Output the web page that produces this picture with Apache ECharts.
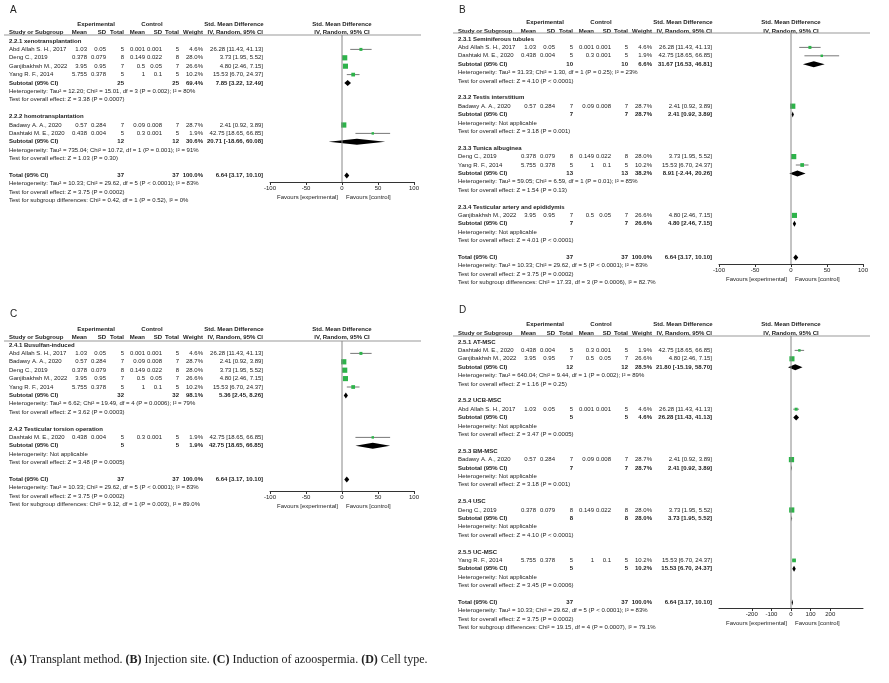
<!DOCTYPE html>
<html>
<head>
<meta charset="utf-8">
<script src="https://cdn.jsdelivr.net/npm/echarts@6/dist/echarts.min.js"></script>
<style>
  body { margin: 0; background: #fff; }
  #chart { width: 889px; height: 683px; }
</style>
</head>
<body>
<div id="chart"></div>
<script>
// studies: name, expMean, expSD, expN, ctlMean, ctlSD, ctlN, weight, smd, lo, hi
var studies = {
  abd:   ['Abd Allah S. H., 2017', '1.03', '0.05', 5, '0.001', '0.001', 5, 4.6, 26.28, 11.43, 41.13],
  deng:  ['Deng C., 2019', '0.378', '0.079', 8, '0.149', '0.022', 8, 28.0, 3.73, 1.95, 5.52],
  ganj:  ['Ganjibakhsh M., 2022', '3.95', '0.95', 7, '0.5', '0.05', 7, 26.6, 4.80, 2.46, 7.15],
  yang:  ['Yang R. F., 2014', '5.755', '0.378', 5, '1', '0.1', 5, 10.2, 15.53, 6.70, 24.37],
  bad:   ['Badawy A. A., 2020', '0.57', '0.284', 7, '0.09', '0.008', 7, 28.7, 2.41, 0.92, 3.89],
  dash:  ['Dashtaki M. E., 2020', '0.438', '0.004', 5, '0.3', '0.001', 5, 1.9, 42.75, 18.65, 66.85]
};
var NA = 'Heterogeneity: Not applicable';
var totalHet = 'Heterogeneity: Tau² = 10.33; Chi² = 29.62, df = 5 (P < 0.0001); I² = 83%';
var totalZ = 'Test for overall effect: Z = 3.75 (P = 0.0002)';
var totalRow = ['T', 'Total (95% CI)', 37, 37, '100.0%', 6.64, 3.17, 10.10];

// rows: g = subgroup title, s = study, t = subtotal/total, h = note text, b = blank
var rowsA = [
  ['g', '2.2.1 xenotransplantation'], ['s', 'abd'], ['s', 'deng'], ['s', 'ganj'], ['s', 'yang'],
  ['t', 'Subtotal (95% CI)', 25, 25, '69.4%', 7.85, 3.22, 12.49],
  ['h', 'Heterogeneity: Tau² = 12.20; Chi² = 15.01, df = 3 (P = 0.002); I² = 80%'],
  ['h', 'Test for overall effect: Z = 3.38 (P = 0.0007)'], ['b'],
  ['g', '2.2.2 homotransplantation'], ['s', 'bad'], ['s', 'dash'],
  ['t', 'Subtotal (95% CI)', 12, 12, '30.6%', 20.71, -18.66, 60.08],
  ['h', 'Heterogeneity: Tau² = 735.04; Chi² = 10.72, df = 1 (P = 0.001); I² = 91%'],
  ['h', 'Test for overall effect: Z = 1.03 (P = 0.30)'], ['b'],
  totalRow, ['h', totalHet], ['h', totalZ],
  ['h', 'Test for subgroup differences: Chi² = 0.42, df = 1 (P = 0.52), I² = 0%']
];
var rowsB = [
  ['g', '2.3.1 Seminiferous tubules'], ['s', 'abd'], ['s', 'dash'],
  ['t', 'Subtotal (95% CI)', 10, 10, '6.6%', 31.67, 16.53, 46.81],
  ['h', 'Heterogeneity: Tau² = 31.33; Chi² = 1.30, df = 1 (P = 0.25); I² = 23%'],
  ['h', 'Test for overall effect: Z = 4.10 (P < 0.0001)'], ['b'],
  ['g', '2.3.2 Testis interstitium'], ['s', 'bad'],
  ['t', 'Subtotal (95% CI)', 7, 7, '28.7%', 2.41, 0.92, 3.89],
  ['h', NA], ['h', 'Test for overall effect: Z = 3.18 (P = 0.001)'], ['b'],
  ['g', '2.3.3 Tunica albuginea'], ['s', 'deng'], ['s', 'yang'],
  ['t', 'Subtotal (95% CI)', 13, 13, '38.2%', 8.91, -2.44, 20.26],
  ['h', 'Heterogeneity: Tau² = 59.05; Chi² = 6.59, df = 1 (P = 0.01); I² = 85%'],
  ['h', 'Test for overall effect: Z = 1.54 (P = 0.13)'], ['b'],
  ['g', '2.3.4 Testicular artery and epididymis'], ['s', 'ganj'],
  ['t', 'Subtotal (95% CI)', 7, 7, '26.6%', 4.80, 2.46, 7.15],
  ['h', NA], ['h', 'Test for overall effect: Z = 4.01 (P < 0.0001)'], ['b'],
  totalRow, ['h', totalHet], ['h', totalZ],
  ['h', 'Test for subgroup differences: Chi² = 17.33, df = 3 (P = 0.0006), I² = 82.7%']
];
var rowsC = [
  ['g', '2.4.1 Busulfan-induced'], ['s', 'abd'], ['s', 'bad'], ['s', 'deng'], ['s', 'ganj'], ['s', 'yang'],
  ['t', 'Subtotal (95% CI)', 32, 32, '98.1%', 5.36, 2.45, 8.26],
  ['h', 'Heterogeneity: Tau² = 6.62; Chi² = 19.49, df = 4 (P = 0.0006); I² = 79%'],
  ['h', 'Test for overall effect: Z = 3.62 (P = 0.0003)'], ['b'],
  ['g', '2.4.2 Testicular torsion operation'], ['s', 'dash'],
  ['t', 'Subtotal (95% CI)', 5, 5, '1.9%', 42.75, 18.65, 66.85],
  ['h', NA], ['h', 'Test for overall effect: Z = 3.48 (P = 0.0005)'], ['b'],
  totalRow, ['h', totalHet], ['h', totalZ],
  ['h', 'Test for subgroup differences: Chi² = 9.12, df = 1 (P = 0.003), I² = 89.0%']
];
var rowsD = [
  ['g', '2.5.1 AT-MSC'], ['s', 'dash'], ['s', 'ganj'],
  ['t', 'Subtotal (95% CI)', 12, 12, '28.5%', 21.80, -15.19, 58.70],
  ['h', 'Heterogeneity: Tau² = 640.04; Chi² = 9.44, df = 1 (P = 0.002); I² = 89%'],
  ['h', 'Test for overall effect: Z = 1.16 (P = 0.25)'], ['b'],
  ['g', '2.5.2 UCB-MSC'], ['s', 'abd'],
  ['t', 'Subtotal (95% CI)', 5, 5, '4.6%', 26.28, 11.43, 41.13],
  ['h', NA], ['h', 'Test for overall effect: Z = 3.47 (P = 0.0005)'], ['b'],
  ['g', '2.5.3 BM-MSC'], ['s', 'bad'],
  ['t', 'Subtotal (95% CI)', 7, 7, '28.7%', 2.41, 0.92, 3.89],
  ['h', NA], ['h', 'Test for overall effect: Z = 3.18 (P = 0.001)'], ['b'],
  ['g', '2.5.4 USC'], ['s', 'deng'],
  ['t', 'Subtotal (95% CI)', 8, 8, '28.0%', 3.73, 1.95, 5.52],
  ['h', NA], ['h', 'Test for overall effect: Z = 4.10 (P < 0.0001)'], ['b'],
  ['g', '2.5.5 UC-MSC'], ['s', 'yang'],
  ['t', 'Subtotal (95% CI)', 5, 5, '10.2%', 15.53, 6.70, 24.37],
  ['h', NA], ['h', 'Test for overall effect: Z = 3.45 (P = 0.0006)'], ['b'],
  totalRow, ['h', totalHet], ['h', totalZ],
  ['h', 'Test for subgroup differences: Chi² = 19.15, df = 4 (P = 0.0007), I² = 79.1%']
];
var ticksAC = [-100, -50, 0, 50, 100];
var ticksD = [-200, -100, 0, 100, 200];

// layout of each panel (pixels)
var panels = [
  { name: 'A', rows: rowsA, x0: 0,   label: 10,  h1: 24,  h2: 32,  line: 35,  row0: 41,  axis: 182, xr: 100, ticks: ticksAC },
  { name: 'B', rows: rowsB, x0: 449, label: 10,  h1: 22,  h2: 31,  line: 33,  row0: 39,  axis: 264, xr: 100, ticks: ticksAC },
  { name: 'C', rows: rowsC, x0: 0,   label: 314, h1: 329, h2: 337, line: 341, row0: 345, axis: 491, xr: 100, ticks: ticksAC },
  { name: 'D', rows: rowsD, x0: 449, label: 310, h1: 324, h2: 333, line: 336, row0: 342, axis: 608, xr: 367, ticks: ticksD }
];
var STEP = 8.4;
var F = '"Liberation Sans", Arial, sans-serif';
var cols = { eM: 87, eSD: 106, eN: 124, cM: 145, cSD: 162, cN: 179, w: 203, ci: 263 };

var chart = echarts.init(document.getElementById('chart'));
var grids = [], xAxes = [], yAxes = [], series = [], graphic = [];

function txt(x, y, s, align, bold, size) {
  graphic.push({ type: 'text', x: x, y: y, silent: true, style: {
    text: String(s), font: (bold ? 'bold ' : '') + (size || 6) + 'px ' + F,
    fill: '#222', align: align || 'left', verticalAlign: 'middle' } });
}
function fmt(v) { return v.toFixed(2); }

panels.forEach(function(p, gi) {
  var x0 = p.x0;
  txt(x0 + 10, p.label, p.name, 'left', false, 10);
  txt(x0 + 96, p.h1, 'Experimental', 'center', true);
  txt(x0 + 152, p.h1, 'Control', 'center', true);
  txt(x0 + 234, p.h1, 'Std. Mean Difference', 'center', true);
  txt(x0 + 342, p.h1, 'Std. Mean Difference', 'center', true);
  txt(x0 + 9, p.h2, 'Study or Subgroup', 'left', true);
  [['eM', 'Mean'], ['eSD', 'SD'], ['eN', 'Total'], ['cM', 'Mean'], ['cSD', 'SD'], ['cN', 'Total'],
   ['w', 'Weight'], ['ci', 'IV, Random, 95% CI']].forEach(function(h) { txt(x0 + cols[h[0]], p.h2, h[1], 'right', true); });
  txt(x0 + 342, p.h2, 'IV, Random, 95% CI', 'center', true);
  graphic.push({ type: 'line', silent: true, shape: { x1: x0 + 4, y1: p.line, x2: x0 + 421, y2: p.line },
    style: { stroke: '#999', lineWidth: 1 } });

  var marks = [];
  p.rows.forEach(function(r, k) {
    var y = p.row0 + k * STEP;
    if (r[0] === 'g') txt(x0 + 9, y, r[1], 'left', true);
    else if (r[0] === 'h') txt(x0 + 9, y, r[1], 'left', false);
    else if (r[0] === 's') {
      var s = studies[r[1]];
      txt(x0 + 9, y, s[0]);
      txt(x0 + cols.eM, y, s[1], 'right'); txt(x0 + cols.eSD, y, s[2], 'right'); txt(x0 + cols.eN, y, s[3], 'right');
      txt(x0 + cols.cM, y, s[4], 'right'); txt(x0 + cols.cSD, y, s[5], 'right'); txt(x0 + cols.cN, y, s[6], 'right');
      txt(x0 + cols.w, y, s[7].toFixed(1) + '%', 'right');
      txt(x0 + cols.ci, y, fmt(s[8]) + ' [' + fmt(s[9]) + ', ' + fmt(s[10]) + ']', 'right');
      marks.push([k, 0, s[8], s[9], s[10], s[7]]);
    } else if (r[0] === 't' || r[0] === 'T') {
      txt(x0 + 9, y, r[1], 'left', true);
      txt(x0 + cols.eN, y, r[2], 'right', true); txt(x0 + cols.cN, y, r[3], 'right', true);
      txt(x0 + cols.w, y, r[4], 'right', true);
      txt(x0 + cols.ci, y, fmt(r[5]) + ' [' + fmt(r[6]) + ', ' + fmt(r[7]) + ']', 'right', true);
      marks.push([k, 1, r[5], r[6], r[7], 0]);
    }
  });

  var ymin = (p.line - p.row0) / STEP, ymax = (p.axis - p.row0) / STEP;
  grids.push({ left: x0 + 270, width: 144, top: p.line, height: p.axis - p.line });
  xAxes.push({ gridIndex: gi, type: 'value', min: -p.xr, max: p.xr, position: 'bottom',
    axisLine: { show: true, onZero: false, lineStyle: { color: '#333' } },
    axisTick: { show: true, length: 3, customValues: p.ticks, lineStyle: { color: '#333' } },
    axisLabel: { customValues: p.ticks, fontSize: 6, fontFamily: F, color: '#222', margin: 3 },
    splitLine: { show: false } });
  yAxes.push({ gridIndex: gi, type: 'value', min: ymin, max: ymax, inverse: true, show: false });
  txt(x0 + 338, p.axis + 15, 'Favours [experimental]', 'right');
  txt(x0 + 346, p.axis + 15, 'Favours [control]', 'left');

  series.push({ type: 'line', xAxisIndex: gi, yAxisIndex: gi, data: [[0, ymin], [0, ymax]],
    symbol: 'none', silent: true, lineStyle: { color: '#888', width: 1 } });
  series.push({ type: 'custom', xAxisIndex: gi, yAxisIndex: gi, data: marks, silent: true,
    renderItem: function(params, api) {
      var k = api.value(0), kind = api.value(1);
      var c = api.coord([api.value(2), k]), l = api.coord([api.value(3), k]), h = api.coord([api.value(4), k]);
      if (kind === 1) {
        return { type: 'polygon', shape: { points: [[l[0], c[1]], [c[0], c[1] - 3], [h[0], c[1]], [c[0], c[1] + 3]] },
          style: { fill: '#000' } };
      }
      var sz = 1.5 + Math.sqrt(api.value(5)) * 0.7;
      return { type: 'group', children: [
        { type: 'line', shape: { x1: l[0], y1: c[1], x2: h[0], y2: c[1] }, style: { stroke: '#555', lineWidth: 0.8 } },
        { type: 'rect', shape: { x: c[0] - sz / 2, y: c[1] - sz / 2, width: sz, height: sz }, style: { fill: '#2db34a' } }
      ] };
    } });
});

// caption
graphic.push({ type: 'text', x: 10, y: 660, silent: true, style: {
  text: '{b|(A)} Transplant method. {b|(B)} Injection site. {b|(C)} Induction of azoospermia. {b|(D)} Cell type.',
  font: '12px "Liberation Serif", "DejaVu Serif", serif', fill: '#222', verticalAlign: 'middle',
  rich: { b: { fontWeight: 'bold', fontSize: 12, fontFamily: '"Liberation Serif", serif' } } } });

chart.setOption({
  animation: false,
  grid: grids, xAxis: xAxes, yAxis: yAxes, series: series, graphic: graphic
});
</script>
</body>
</html>
